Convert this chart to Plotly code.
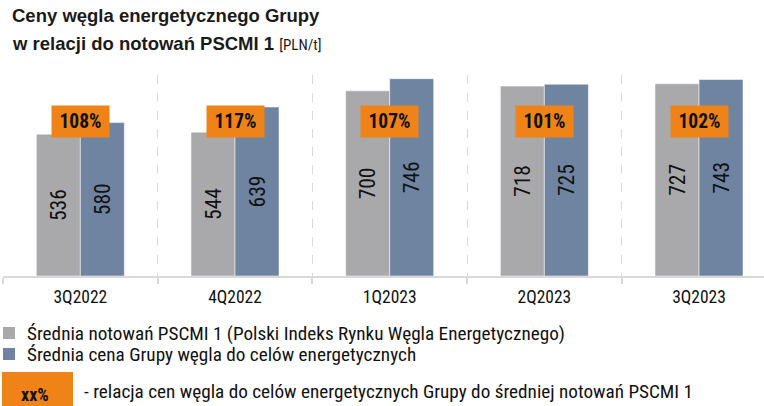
import plotly.graph_objects as go

categories = ["3Q2022", "4Q2022", "1Q2023", "2Q2023", "3Q2023"]
pscmi_avg = [536, 544, 700, 718, 727]
group_price = [580, 639, 746, 725, 743]
ratio_labels = ["108%", "117%", "107%", "101%", "102%"]
series_names = ["Średnia notowań PSCMI 1 (Polski Indeks Rynku Węgla Energetycznego)",
                "Średnia cena Grupy węgla do celów energetycznych"]

GRAY = "#A9A9AB"
BLUE = "#6E84A0"
ORANGE = "#EF8318"
NARROW = "Roboto Condensed, Liberation Sans, Arial, sans-serif"
BOLDF = "Liberation Sans, Arial, sans-serif"

W, H = 764, 406
PL, PT, PB = 3, 75, 276          # plot area pixel edges
PW, PH = W - PL, PB - PT


def px(xp):
    return (xp - PL) / PW


def py(yp):
    return (PB - yp) / PH


x_idx = list(range(len(categories)))
colors = [GRAY, BLUE]

fig = go.Figure()
for name, vals, col in zip(series_names, [pscmi_avg, group_price], colors):
    fig.add_trace(go.Bar(
        x=x_idx, y=vals, name=name, showlegend=False,
        marker=dict(color=col, line=dict(color="rgba(255,255,255,0.5)", width=1)),
        text=[str(v) for v in vals], textposition="inside", insidetextanchor="middle",
        textangle=-90, textfont=dict(family=NARROW, size=21.5, color="#111111"),
        hoverinfo="skip",
    ))

# ratio boxes
for i, lab in enumerate(ratio_labels):
    fig.add_annotation(
        x=i, y=py(121), xref="x", yref="paper",
        text="<b>" + lab + "</b>", showarrow=False,
        font=dict(family=NARROW, size=19.5, color="#111111"),
        bgcolor=ORANGE, width=55, height=29, xanchor="center", yanchor="middle",
    )

# title
fig.add_annotation(
    x=px(10), y=py(15), xref="paper", yref="paper", xanchor="left", yanchor="middle",
    text="<b>Ceny węgla energetycznego Grupy</b>", showarrow=False,
    font=dict(family=BOLDF, size=18.5, color="#1a1a1a"),
)
fig.add_annotation(
    x=px(10), y=py(43), xref="paper", yref="paper", xanchor="left", yanchor="middle",
    text="<b>w relacji do notowań PSCMI 1</b> <span style='font-family:Roboto Condensed;font-size:15px'>[PLN/t]</span>",
    showarrow=False, font=dict(family=BOLDF, size=18.5, color="#1a1a1a"),
)

# manual legend
for k, (name, col) in enumerate(zip(series_names, colors)):
    cy = 333 + 21 * k
    fig.add_shape(type="rect", xref="paper", yref="paper",
                  x0=px(3), x1=px(15), y0=py(cy - 6), y1=py(cy + 6),
                  fillcolor=col, line=dict(width=0))
    fig.add_annotation(
        x=px(25), y=py(cy), xref="paper", yref="paper", xanchor="left", yanchor="middle",
        text=name, showarrow=False, font=dict(family=NARROW, size=19.2, color="#111111"),
    )

# bottom explanation row
fig.add_shape(type="rect", xref="paper", yref="paper",
              x0=px(2), x1=px(73), y0=py(372), y1=py(408),
              fillcolor=ORANGE, line=dict(width=0))
fig.add_annotation(
    x=px(35), y=py(394), xref="paper", yref="paper", xanchor="center", yanchor="middle",
    text="<b>xx%</b>", showarrow=False,
    font=dict(family=NARROW, size=18, color="#111111"),
)
fig.add_annotation(
    x=px(82), y=py(391), xref="paper", yref="paper", xanchor="left", yanchor="middle",
    text="- relacja cen węgla do celów energetycznych Grupy do średniej notowań PSCMI 1",
    showarrow=False, font=dict(family=NARROW, size=19.2, color="#111111"),
)

fig.update_layout(
    width=W, height=H,
    margin=dict(l=PL, r=0, t=PT, b=H - PB, autoexpand=False),
    paper_bgcolor="white", plot_bgcolor="white",
    barmode="group", bargap=0.431, bargroupgap=0,
    showlegend=False,
    xaxis=dict(
        range=[-0.5, 4.42], tickvals=x_idx, ticktext=categories,
        ticks="", showgrid=False, zeroline=False,
        showline=True, linecolor="#D9D9D9", linewidth=2,
        ticklabelstandoff=4,
        tickfont=dict(family=NARROW, size=17.5, color="#111111"),
        minor=dict(tick0=-0.5, dtick=1, ticks="outside", ticklen=6,
                   tickcolor="#D9D9D9", tickwidth=2,
                   showgrid=True, gridcolor="#D9D9D9", griddash="dash", gridwidth=1),
    ),
    yaxis=dict(range=[0, 760], visible=False, showgrid=False, zeroline=False),
)

fig.write_html("out.html", config={"displayModeBar": False},
               post_script="document.body.style.margin='0';")
